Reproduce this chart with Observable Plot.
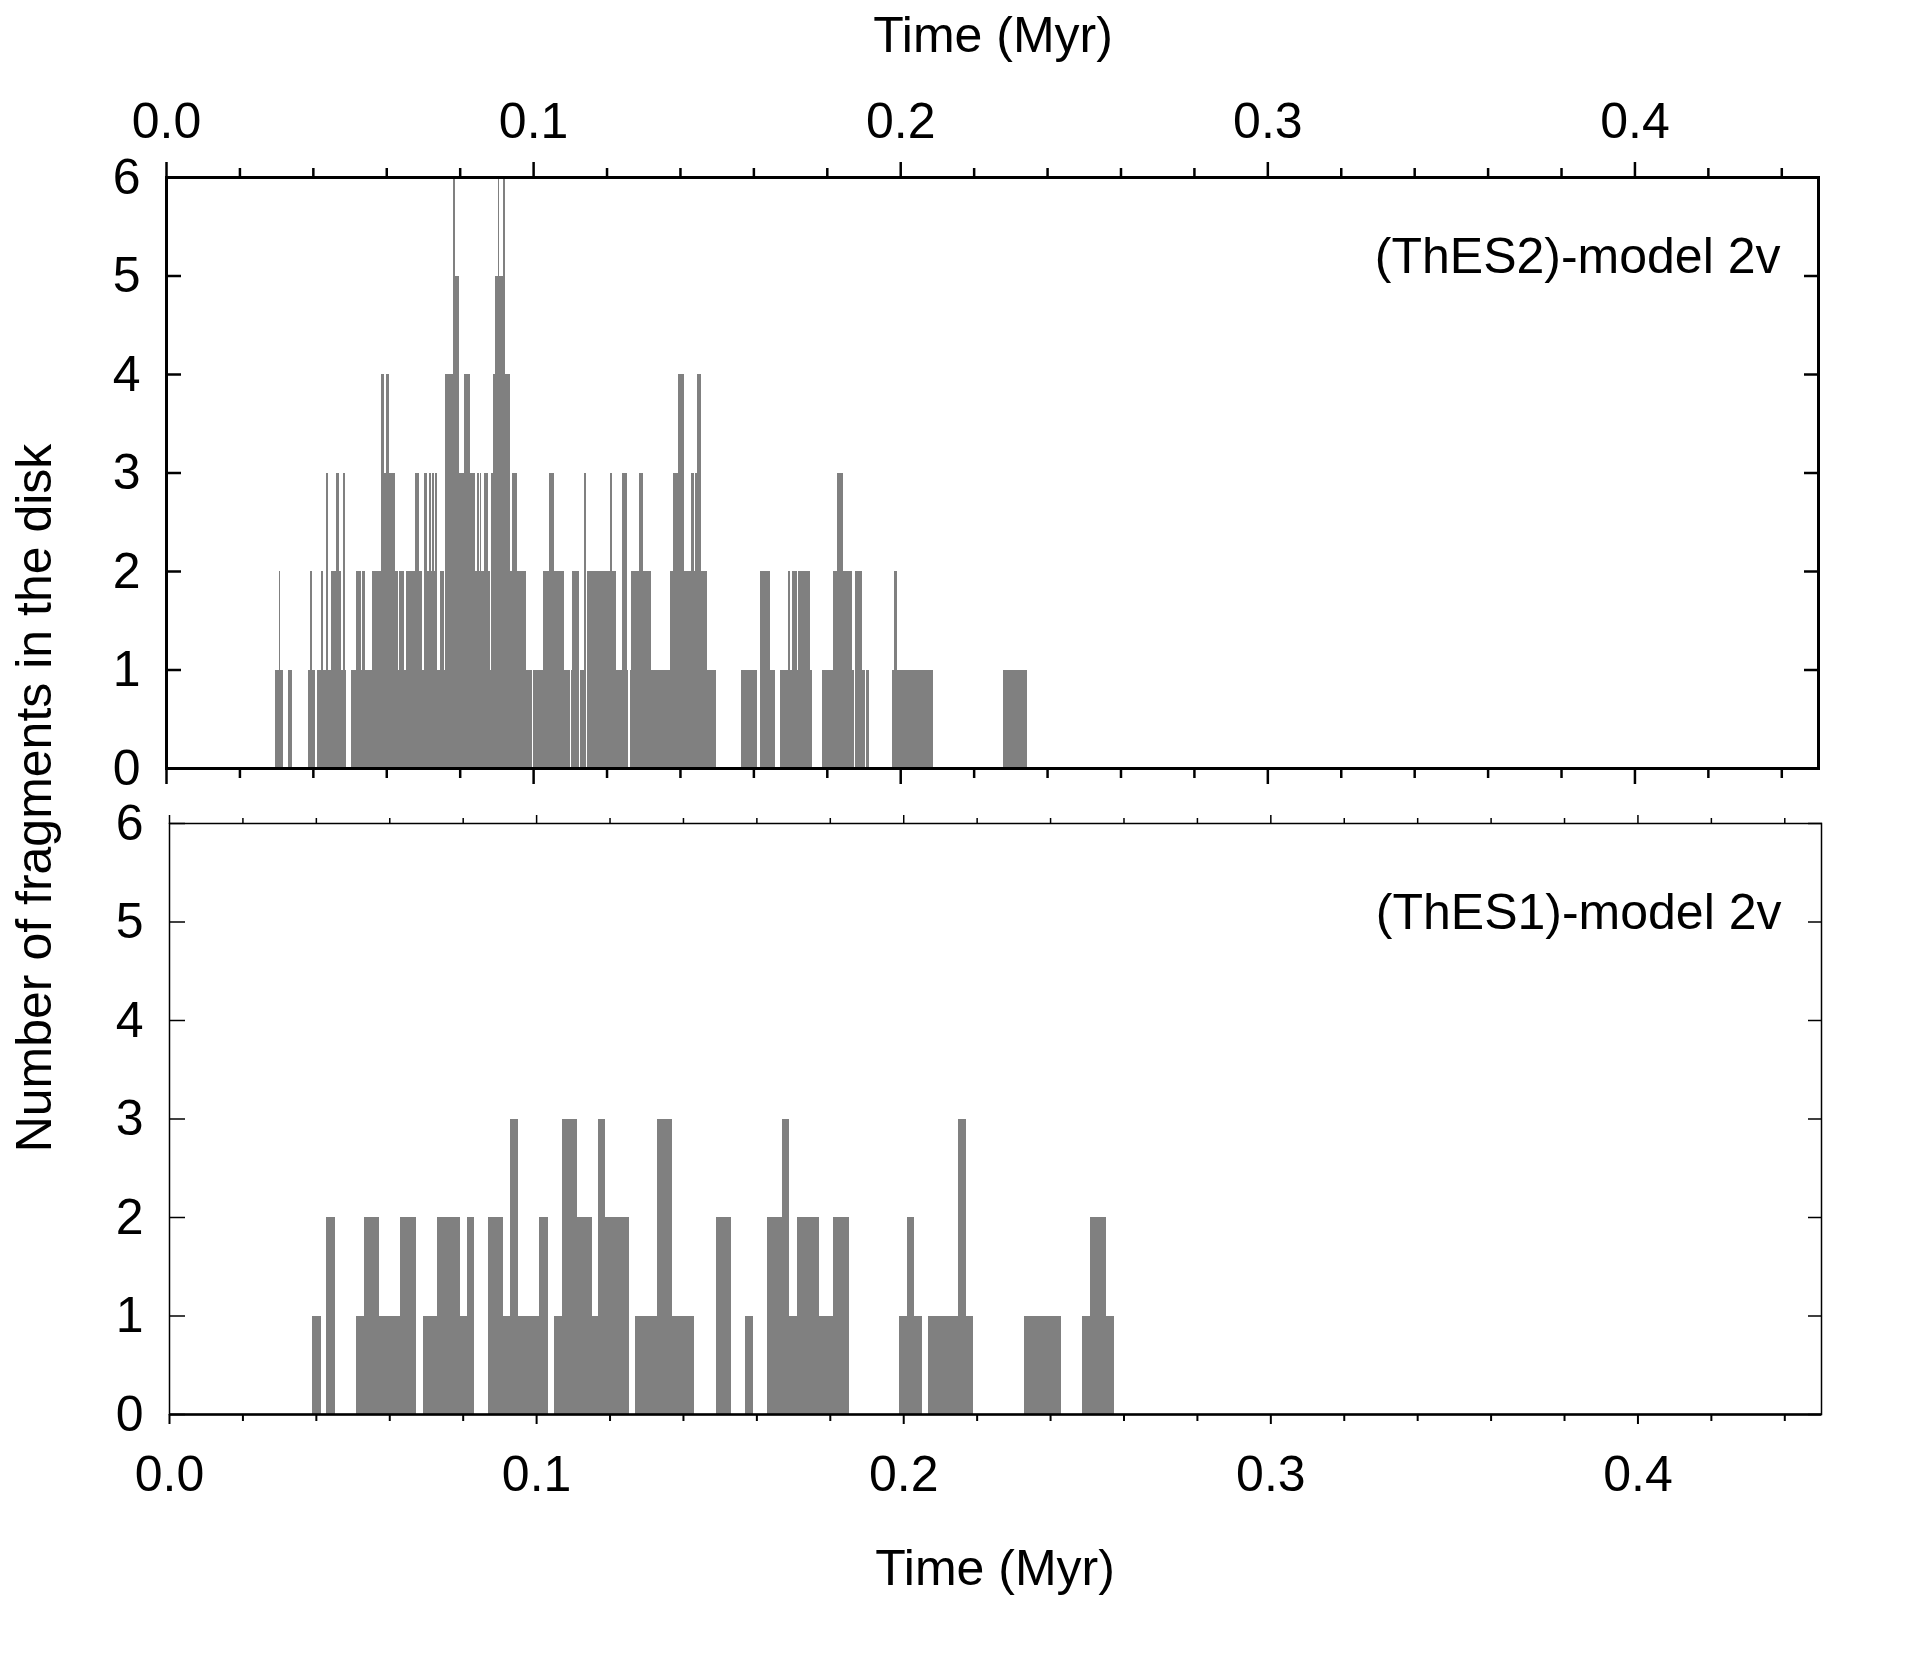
<!DOCTYPE html>
<html>
<head>
<meta charset="utf-8">
<script src="https://cdn.jsdelivr.net/npm/d3@7"></script>
<script src="https://cdn.jsdelivr.net/npm/@observablehq/plot@0.6"></script>
<style>
  html, body { margin: 0; padding: 0; background: #fff; }
  #wrap { position: relative; width: 1905px; height: 1656px; background: #fff;
          font-family: "Liberation Sans", Arial, sans-serif; color: #000; }
  .panel { position: absolute; left: 0; }
  .lbl { position: absolute; font-size: 50px; line-height: 1; white-space: nowrap; }
</style>
</head>
<body>
<div id="wrap"></div>
<script>
// ---------- data ----------
// Time intervals (Myr) in which the number of fragments is >= level k.
const thes2Level1 = [[0.0296,0.0318],[0.0331,0.0344],[0.0386,0.0405],[0.0410,0.0489],[0.0505,0.0544],[0.0546,0.0998],[0.1001,0.1101],[0.1103,0.1125],[0.1127,0.1145],[0.1148,0.1259],[0.1263,0.1497],[0.1567,0.1611],[0.1619,0.1660],[0.1673,0.1759],[0.1787,0.1874],[0.1877,0.1904],[0.1907,0.1915],[0.1977,0.2089],[0.2281,0.2344]];
const thes2Level2 = [[0.0307,0.0310],[0.0392,0.0398],[0.0421,0.0428],[0.0435,0.0442],[0.0450,0.0478],[0.0481,0.0488],[0.0517,0.0532],[0.0534,0.0543],[0.0562,0.0632],[0.0635,0.0649],[0.0655,0.0698],[0.0702,0.0738],[0.0746,0.0758],[0.0761,0.0883],[0.0886,0.0980],[0.1026,0.1084],[0.1107,0.1125],[0.1148,0.1225],[0.1241,0.1257],[0.1268,0.1320],[0.1372,0.1474],[0.1619,0.1646],[0.1693,0.1701],[0.1704,0.1719],[0.1722,0.1755],[0.1818,0.1868],[0.1877,0.1895],[0.1984,0.1991]];
const thes2Level3 = [[0.0435,0.0442],[0.0464,0.0472],[0.0481,0.0488],[0.0586,0.0624],[0.0677,0.0689],[0.0702,0.0711],[0.0716,0.0721],[0.0724,0.0729],[0.0732,0.0738],[0.0761,0.0843],[0.0848,0.0852],[0.0855,0.0858],[0.0867,0.0878],[0.0886,0.0938],[0.0942,0.0957],[0.1043,0.1056],[0.1139,0.1145],[0.1209,0.1216],[0.1241,0.1255],[0.1288,0.1300],[0.1382,0.1410],[0.1431,0.1439],[0.1442,0.1456],[0.1829,0.1844]];
const thes2Level4 = [[0.0586,0.0593],[0.0600,0.0608],[0.0761,0.0799],[0.0813,0.0829],[0.0891,0.0938],[0.1396,0.1410],[0.1447,0.1456]];
const thes2Level5 = [[0.0781,0.0799],[0.0897,0.0924]];
const thes2Level6 = [[0.0781,0.0786],[0.0903,0.0908],[0.0918,0.0923]];

const thes1Level1 = [[0.0389,0.0413],[0.0429,0.0452],[0.0509,0.0672],[0.0691,0.0832],[0.0870,0.1033],[0.1050,0.1253],[0.1269,0.1431],[0.1489,0.1532],[0.1568,0.1592],[0.1629,0.1851],[0.1989,0.2052],[0.2068,0.2191],[0.2330,0.2431],[0.2488,0.2573]];
const thes1Level2 = [[0.0429,0.0452],[0.0531,0.0573],[0.0628,0.0672],[0.0729,0.0792],[0.0811,0.0832],[0.0870,0.0911],[0.0930,0.0952],[0.1009,0.1033],[0.1070,0.1151],[0.1169,0.1253],[0.1329,0.1371],[0.1489,0.1532],[0.1629,0.1690],[0.1710,0.1771],[0.1810,0.1851],[0.2009,0.2030],[0.2148,0.2172],[0.2510,0.2553]];
const thes1Level3 = [[0.0930,0.0952],[0.1070,0.1111],[0.1169,0.1189],[0.1329,0.1371],[0.1670,0.1690],[0.2148,0.2172]];

const timeMajor = [0, 0.1, 0.2, 0.3, 0.4];
const timeMinor = [0.02,0.04,0.06,0.08,0.12,0.14,0.16,0.18,0.22,0.24,0.26,0.28,0.32,0.34,0.36,0.38,0.42,0.44];
const countTicks = [0, 1, 2, 3, 4, 5, 6];
const panelLabels = ["(ThES2)-model 2v", "(ThES1)-model 2v"];
const xTitle = "Time (Myr)";
const yTitle = "Number of fragments in the disk";

// ---------- helpers ----------
const toBars = levels => levels.flatMap((iv, i) => iv.map(([a, b]) => ({t0: a, t1: b, n: i + 1})));
const fmt = d3.format(".1f");
const blank = () => "";
const FONT = '"Liberation Sans", Arial, sans-serif';
const GRAY = "#808080";
const wrap = document.getElementById("wrap");

// ---------- top panel (ThES2) ----------
const p1 = Plot.plot({
  width: 1905, height: 800,
  marginTop: 177, marginBottom: 32, marginLeft: 166, marginRight: 87,
  style: {fontSize: "50px", fontFamily: FONT, color: "#000", background: "transparent", overflow: "visible"},
  x: {domain: [0, 0.45], axis: null},
  y: {domain: [0, 6], axis: null},
  marks: [
    Plot.rectY(toBars([thes2Level1, thes2Level2, thes2Level3, thes2Level4, thes2Level5, thes2Level6]),
      {x1: "t0", x2: "t1", y1: 0, y2: "n", fill: GRAY, shapeRendering: "crispEdges"}),
    Plot.frame({stroke: "#000", strokeWidth: 3}),
    Plot.axisX(timeMinor, {anchor: "top", tickSize: 10, strokeWidth: 2.5, tickFormat: blank, label: null}),
    Plot.axisX(timeMajor, {anchor: "top", tickSize: 16, strokeWidth: 2.5, tickPadding: 24, tickFormat: fmt, label: null, fontSize: 50}),
    Plot.axisX(timeMinor, {anchor: "bottom", tickSize: 10, strokeWidth: 2.5, tickFormat: blank, label: null}),
    Plot.axisX(timeMajor, {anchor: "bottom", tickSize: 16, strokeWidth: 2.5, tickFormat: blank, label: null}),
    Plot.axisY(countTicks, {anchor: "left", tickSize: -15, strokeWidth: 2.5, tickFormat: blank, label: null}),
    Plot.axisY(countTicks, {anchor: "left", tickSize: 0, tickPadding: 26, tickFormat: d => String(d), label: null, fontSize: 50}),
    Plot.axisY(countTicks, {anchor: "right", tickSize: -15, strokeWidth: 2.5, tickFormat: blank, label: null}),
    Plot.text([panelLabels[0]], {frameAnchor: "top-right", dx: -38, dy: 95, textAnchor: "end", lineAnchor: "bottom", fontSize: 50, fill: "#000"})
  ]
});
p1.classList.add("panel");
p1.style.top = "0px";
wrap.appendChild(p1);

// ---------- bottom panel (ThES1) ----------
const p2 = Plot.plot({
  width: 1905, height: 866,
  marginTop: 33, marginBottom: 242, marginLeft: 169, marginRight: 84,
  style: {fontSize: "50px", fontFamily: FONT, color: "#000", background: "transparent", overflow: "visible"},
  x: {domain: [0, 0.45], axis: null},
  y: {domain: [0, 6], axis: null},
  marks: [
    Plot.rectY(toBars([thes1Level1, thes1Level2, thes1Level3]),
      {x1: "t0", x2: "t1", y1: 0, y2: "n", fill: GRAY, shapeRendering: "crispEdges"}),
    Plot.frame({stroke: "#000", strokeWidth: 1.5}),
    Plot.ruleY([0], {stroke: "#000", strokeWidth: 2.5}),
    Plot.axisX(timeMinor, {anchor: "top", tickSize: 6, strokeWidth: 1.5, tickFormat: blank, label: null}),
    Plot.axisX(timeMajor, {anchor: "top", tickSize: 9, strokeWidth: 1.5, tickFormat: blank, label: null}),
    Plot.axisX(timeMinor, {anchor: "bottom", tickSize: 7, strokeWidth: 2, tickFormat: blank, label: null}),
    Plot.axisX(timeMajor, {anchor: "bottom", tickSize: 10, strokeWidth: 2, tickPadding: 31, tickFormat: fmt, label: null, fontSize: 50}),
    Plot.axisY(countTicks, {anchor: "left", tickSize: -16, strokeWidth: 1.5, tickFormat: blank, label: null}),
    Plot.axisY(countTicks, {anchor: "left", tickSize: 0, tickPadding: 26, tickFormat: d => String(d), label: null, fontSize: 50}),
    Plot.axisY(countTicks, {anchor: "right", tickSize: -14, strokeWidth: 1.5, tickFormat: blank, label: null}),
    Plot.text([panelLabels[1]], {frameAnchor: "top-right", dx: -40, dy: 105, textAnchor: "end", lineAnchor: "bottom", fontSize: 50, fill: "#000"})
  ]
});
p2.classList.add("panel");
p2.style.top = "790px";
wrap.appendChild(p2);

// ---------- titles ----------
function addLabel(text, css) {
  const d = document.createElement("div");
  d.className = "lbl";
  d.textContent = text;
  Object.assign(d.style, css);
  wrap.appendChild(d);
  return d;
}
addLabel(xTitle, {left: "993px", top: "10px", transform: "translateX(-50%)"});
addLabel(xTitle, {left: "995px", top: "1543px", transform: "translateX(-50%)"});
addLabel(yTitle, {left: "34px", top: "798px", transform: "translate(-50%,-50%) rotate(-90deg)"});
</script>
</body>
</html>
